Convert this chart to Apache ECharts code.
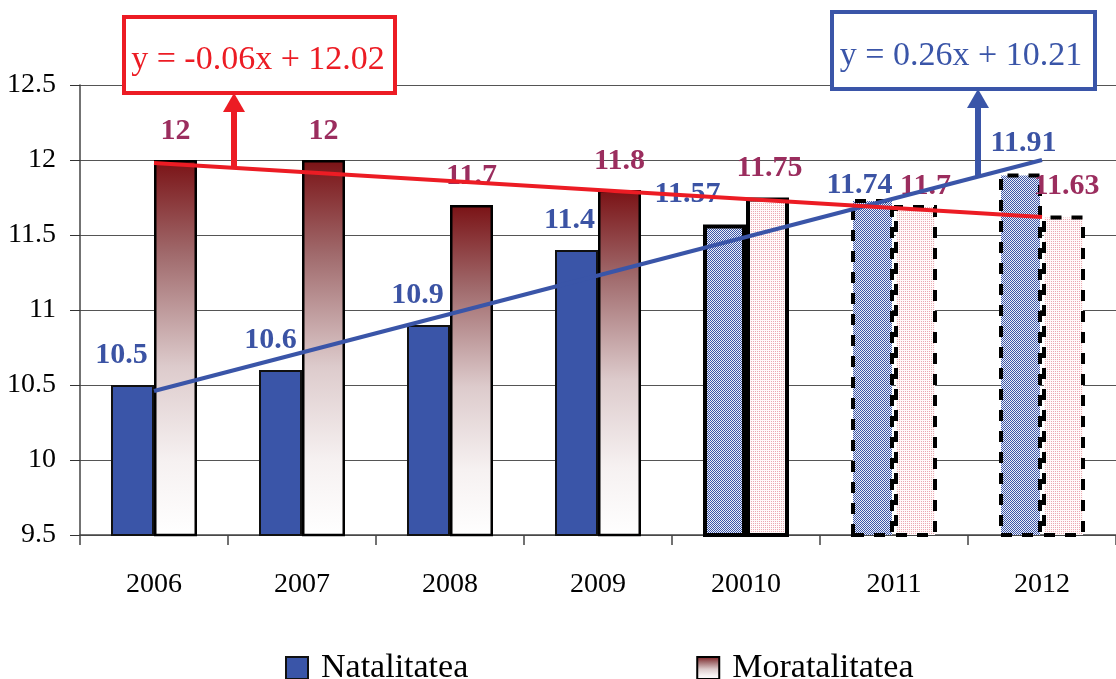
<!DOCTYPE html>
<html>
<head>
<meta charset="utf-8">
<script src="https://cdn.jsdelivr.net/npm/echarts@6/dist/echarts.min.js"></script>
<style>html,body{margin:0;padding:0;background:#fff}#c{width:1116px;height:679px}</style>
</head>
<body>
<div id="c"></div>
<script>
const categories = ['2006', '2007', '2008', '2009', '20010', '2011', '2012'];
const natalitatea = [10.5, 10.6, 10.9, 11.4, 11.57, 11.74, 11.91];
const mortalitatea = [12, 12, 11.7, 11.8, 11.75, 11.7, 11.63];
const trendNat = [10.46, null, null, null, null, null, 12.0];
const trendMort = [11.98, null, null, null, null, null, 11.62];
const yTicks = [9.5, 10, 10.5, 11, 11.5, 12, 12.5];
const eqMort = 'y = -0.06x + 12.02';
const eqNat = 'y = 0.26x + 10.21';

// styling (not data)
const barKinds = ['solid', 'solid', 'solid', 'solid', 'pattern', 'dashed', 'dashed'];
const natLabelOffsets = [[-11, 0], [-10, 0], [-11, 0], [-7, 0], [-37, 0], [-13, 16], [3, 0]];
const mortLabelOffsets = [[0, 0], [0, 0], [0, 0], [0, 0], [2, 0], [10, 10], [3, 0]];

const BLUE = '#3a55a8';
const RED = '#ec1c24';
const SERIF = '"Liberation Serif", "DejaVu Serif", serif';

function makePattern(kind) {
  const cv = document.createElement('canvas');
  cv.width = 2; cv.height = 2;
  const g = cv.getContext('2d');
  if (kind === 'blue') {
    g.fillStyle = '#eef0f8'; g.fillRect(0, 0, 2, 2);
    g.fillStyle = '#3c56a8'; g.fillRect(0, 0, 1, 1); g.fillRect(1, 1, 1, 1);
  } else {
    g.fillStyle = '#fffafa'; g.fillRect(0, 0, 2, 2);
    g.fillStyle = '#eaa9b2'; g.fillRect(1, 1, 1, 1);
  }
  return { image: cv, repeat: 'repeat' };
}
const bluePattern = makePattern('blue');
const pinkPattern = makePattern('pink');

const mortGradient = new echarts.graphic.LinearGradient(0, 0, 0, 1, [
  { offset: 0, color: '#7a1215' },
  { offset: 0.25, color: '#a06a6c' },
  { offset: 0.55, color: '#ddcbcc' },
  { offset: 0.8, color: '#f6f1f1' },
  { offset: 1, color: '#ffffff' }
]);

function natItem(v, i) {
  const k = barKinds[i];
  const it = { value: v, label: { offset: natLabelOffsets[i] } };
  if (k === 'pattern') it.itemStyle = { color: bluePattern, borderColor: '#000', borderWidth: 4 };
  if (k === 'dashed') it.itemStyle = { color: bluePattern, borderColor: '#000', borderWidth: 4, borderType: [11, 10] };
  return it;
}
function mortItem(v, i) {
  const k = barKinds[i];
  const it = { value: v, label: { offset: mortLabelOffsets[i] } };
  if (k === 'pattern') it.itemStyle = { color: pinkPattern, borderColor: '#000', borderWidth: 4 };
  if (k === 'dashed') it.itemStyle = { color: pinkPattern, borderColor: '#000', borderWidth: 4, borderType: [11, 10] };
  return it;
}

const chart = echarts.init(document.getElementById('c'), null, { renderer: 'canvas' });

const option = {
  animation: false,
  backgroundColor: '#fff',
  grid: { left: 80, right: 0, top: 85, bottom: 144, containLabel: false },
  legend: {
    data: ['Natalitatea', 'Moratalitatea'],
    left: 280, top: 646,
    icon: 'rect',
    itemWidth: 22, itemHeight: 22,
    itemGap: 228,
    textStyle: { fontFamily: SERIF, fontSize: 34, color: '#000', padding: [0, 0, 0, 8] }
  },
  xAxis: {
    type: 'category',
    data: categories,
    axisLine: { lineStyle: { color: '#444', width: 1.5 } },
    axisTick: { show: true, length: 10, lineStyle: { color: '#444', width: 1.5 } },
    axisLabel: { fontFamily: SERIF, fontSize: 28, color: '#000', margin: 36 }
  },
  yAxis: {
    type: 'value',
    min: yTicks[0], max: yTicks[yTicks.length - 1], interval: 0.5,
    axisLine: { show: true, lineStyle: { color: '#444', width: 1.5 } },
    axisTick: { show: true, length: 10, lineStyle: { color: '#333' } },
    splitLine: { show: true, lineStyle: { color: '#555', width: 1.2 } },
    axisLabel: { fontFamily: SERIF, fontSize: 28, color: '#000', margin: 24 }
  },
  series: [
    {
      name: 'Natalitatea', type: 'bar',
      barWidth: 43, barGap: '0%',
      data: natalitatea.map(natItem),
      itemStyle: { color: BLUE, borderColor: '#111', borderWidth: 2 },
      label: { show: true, position: 'top', distance: 15, color: '#3b53a4', fontWeight: 'bold', fontSize: 30, fontFamily: SERIF },
      z: 2
    },
    {
      name: 'Moratalitatea', type: 'bar',
      barWidth: 43, barGap: '0%',
      data: mortalitatea.map(mortItem),
      itemStyle: { color: mortGradient, borderColor: '#000', borderWidth: 2.5 },
      label: { show: true, position: 'top', distance: 14, color: '#9b2d5e', fontWeight: 'bold', fontSize: 30, fontFamily: SERIF },
      z: 2
    },
    {
      name: 'trendNat', type: 'line', data: trendNat, connectNulls: true,
      symbol: 'none', lineStyle: { color: BLUE, width: 4 }, z: 5, silent: true
    },
    {
      name: 'trendMort', type: 'line', data: trendMort, connectNulls: true,
      symbol: 'none', lineStyle: { color: RED, width: 4 }, z: 6, silent: true
    }
  ],
  graphic: [
    // red equation box
    { type: 'rect', left: 122, top: 15, shape: { width: 271, height: 76 },
      style: { fill: '#fff', stroke: RED, lineWidth: 4 }, z: 10 },
    { type: 'text', x: 258, y: 60, style: { text: eqMort, fill: RED, font: '34px ' + SERIF, textAlign: 'center', textVerticalAlign: 'middle' }, z: 11 },
    { type: 'line', shape: { x1: 234, y1: 166, x2: 234, y2: 108 }, style: { stroke: RED, lineWidth: 6 }, z: 10 },
    { type: 'polygon', shape: { points: [[234, 93], [223, 112], [245, 112]] }, style: { fill: RED }, z: 10 },
    // blue equation box
    { type: 'rect', left: 830, top: 10, shape: { width: 263, height: 77 },
      style: { fill: '#fff', stroke: BLUE, lineWidth: 4 }, z: 10 },
    { type: 'text', x: 961, y: 56, style: { text: eqNat, fill: BLUE, font: '34px ' + SERIF, textAlign: 'center', textVerticalAlign: 'middle' }, z: 11 },
    { type: 'line', shape: { x1: 978, y1: 178, x2: 978, y2: 104 }, style: { stroke: BLUE, lineWidth: 6 }, z: 10 },
    { type: 'polygon', shape: { points: [[978, 89], [967, 108], [989, 108]] }, style: { fill: BLUE }, z: 10 }
  ]
};
chart.setOption(option);
</script>
</body>
</html>
